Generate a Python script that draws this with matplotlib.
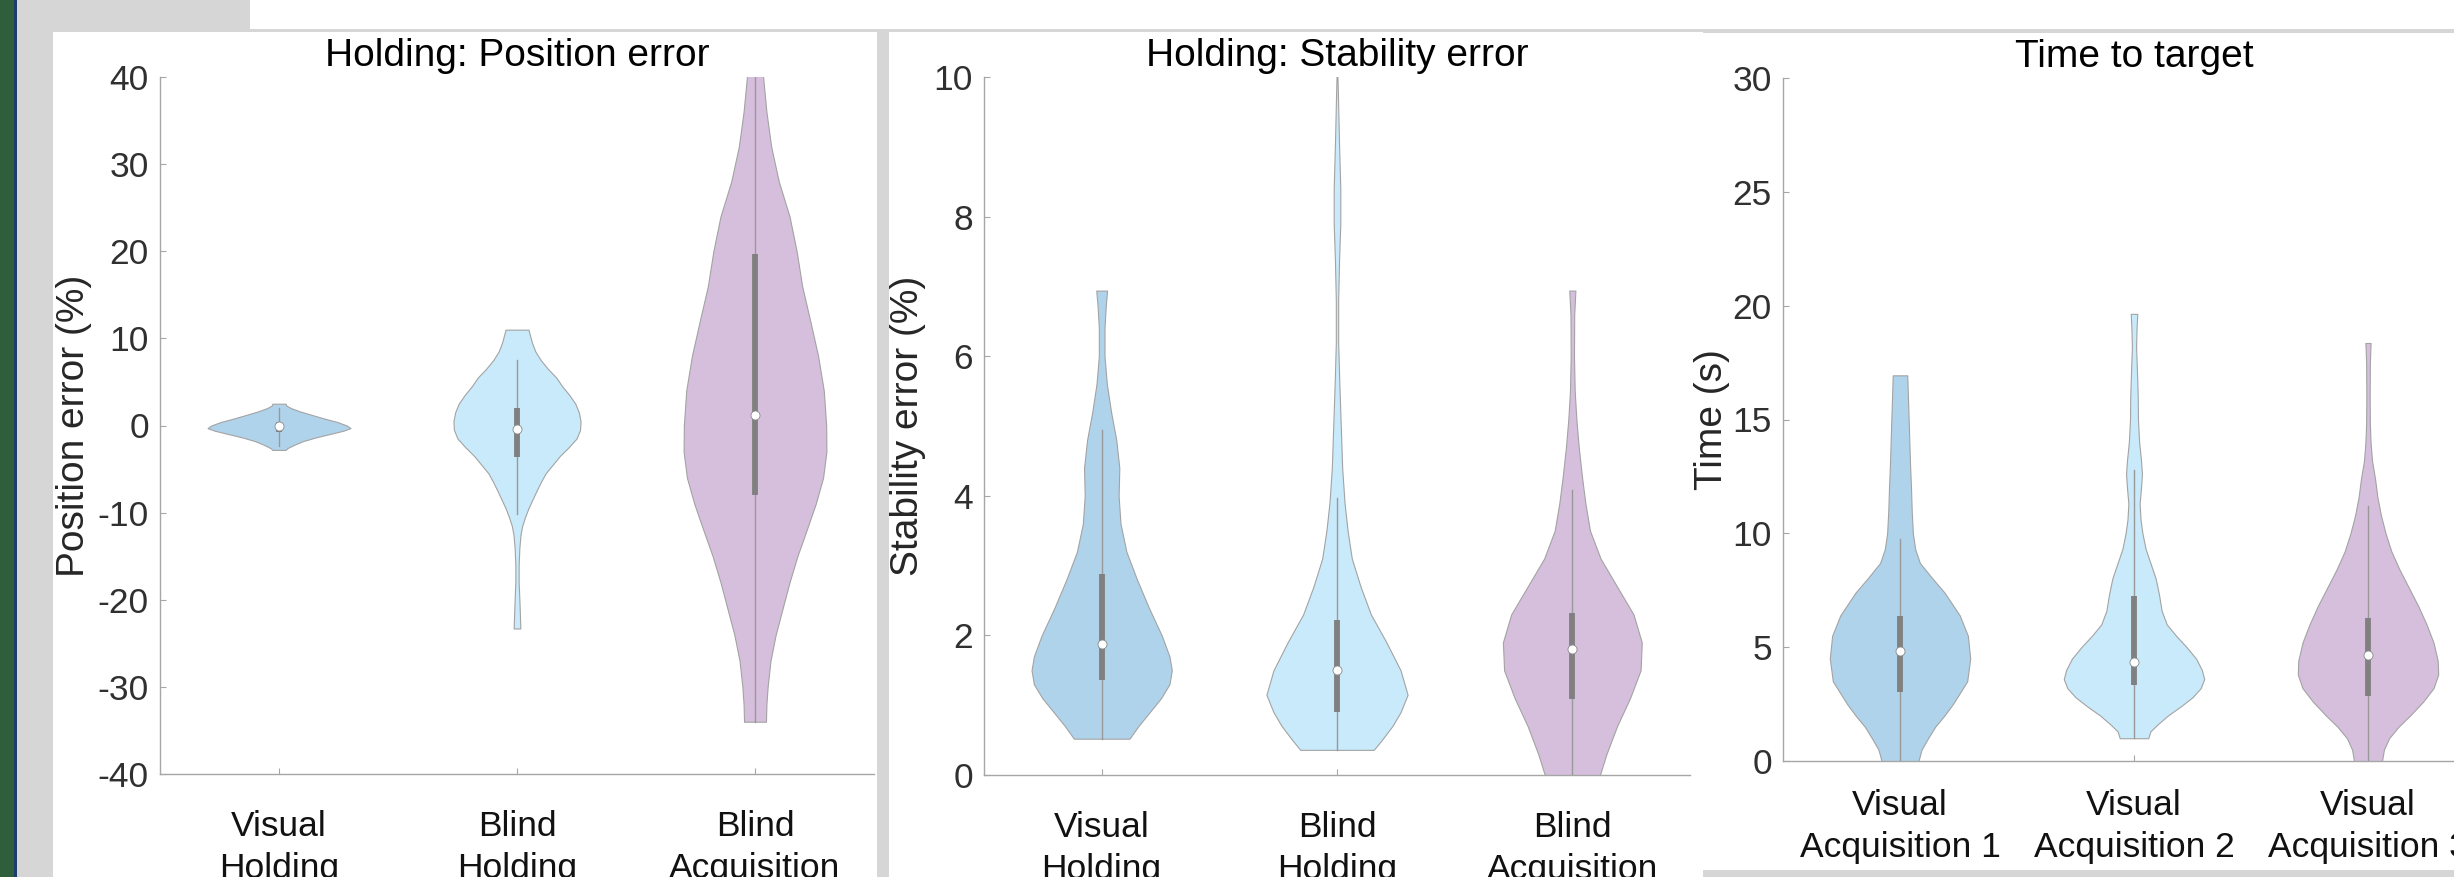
import matplotlib
matplotlib.use('Agg')
import matplotlib.pyplot as plt
from matplotlib.patches import Rectangle
import numpy as np

plt.rcParams['font.family'] = ['Liberation Sans', 'DejaVu Sans']
plt.rcParams['axes.unicode_minus'] = False

# ---------------- data ----------------
labels_hold = ['Visual\nHolding', 'Blind\nHolding', 'Blind\nAcquisition']
labels_time = ['Visual\nAcquisition 1', 'Visual\nAcquisition 2', 'Visual\nAcquisition 3']
colors = ['#b0d3ec', '#c9eafa', '#d6bfdd']

# Panel 1: Position error (%) -- violin outlines (value, half-width)
pos_vh_y = [2.5, 2.3, 2.0, 1.6, 1.2, 0.8, 0.4, 0.0, -0.3, -0.6, -1.0, -1.4, -1.8, -2.2, -2.6, -2.8]
pos_vh_w = [0.028, 0.03, 0.05, 0.09, 0.14, 0.19, 0.245, 0.285, 0.30, 0.27, 0.21, 0.15, 0.10, 0.065, 0.035, 0.028]
pos_bh_y = [11.0, 10.5, 9.5, 8.5, 7.5, 6.5, 5.5, 4.5, 3.5, 2.5, 1.5, 0.5, -0.5, -1.5, -2.5, -3.5, -4.5,
            -5.5, -6.5, -7.5, -8.5, -9.5, -10.5, -11.5, -12.5, -14.0, -16.0, -18.0, -20.0, -21.5, -23.3]
pos_bh_w = [0.048, 0.053, 0.063, 0.077, 0.10, 0.13, 0.165, 0.19, 0.22, 0.245, 0.26, 0.267, 0.265, 0.25, 0.217,
            0.18, 0.15, 0.12, 0.10, 0.082, 0.065, 0.048, 0.034, 0.022, 0.015, 0.01, 0.007, 0.007, 0.01, 0.012, 0.014]
pos_ba_y = [42, 40, 36, 32, 28, 24, 20, 16, 12, 8, 4, 0, -3, -6, -9, -12, -15, -18, -21, -24, -27, -30, -32, -34]
pos_ba_w = [0.03, 0.034, 0.048, 0.068, 0.10, 0.145, 0.175, 0.198, 0.232, 0.265, 0.289, 0.299, 0.30, 0.286,
            0.255, 0.217, 0.178, 0.145, 0.116, 0.087, 0.065, 0.053, 0.048, 0.046]
# box stats: q1, median, q3, lower whisker, upper whisker
pos_box = [(-0.7, -0.1, 0.4, -2.3, 2.0),
           (-3.6, -0.4, 2.0, -10.2, 7.5),
           (-8.0, 1.25, 19.7, -34.0, 42.0)]

# Panel 2: Stability error (%)
stab_vh_y = [6.94, 6.7, 6.4, 6.0, 5.6, 5.2, 4.8, 4.4, 4.0, 3.6, 3.2, 2.8, 2.4, 2.0, 1.7, 1.5, 1.3, 1.1, 0.9, 0.7, 0.52]
stab_vh_w = [0.023, 0.017, 0.012, 0.012, 0.022, 0.04, 0.062, 0.075, 0.072, 0.08, 0.105, 0.15, 0.2, 0.255,
             0.288, 0.298, 0.288, 0.252, 0.204, 0.156, 0.118]
stab_bh_y = [10.0, 9.6, 9.0, 8.4, 7.9, 7.4, 6.8, 6.2, 5.6, 5.0, 4.4, 3.9, 3.5, 3.1, 2.7, 2.3, 1.9, 1.5, 1.15,
             0.9, 0.7, 0.5, 0.36]
stab_bh_w = [0.002, 0.005, 0.009, 0.014, 0.014, 0.009, 0.005, 0.005, 0.01, 0.016, 0.022, 0.032, 0.045, 0.063,
             0.1, 0.144, 0.21, 0.27, 0.30, 0.27, 0.235, 0.19, 0.156]
stab_ba_y = [6.94, 6.6, 6.0, 5.5, 5.1, 4.7, 4.3, 3.9, 3.5, 3.1, 2.7, 2.3, 1.9, 1.5, 1.1, 0.7, 0.3, 0.0, -0.3]
stab_ba_w = [0.013, 0.008, 0.007, 0.01, 0.017, 0.027, 0.04, 0.055, 0.075, 0.12, 0.19, 0.26, 0.295, 0.29,
             0.245, 0.19, 0.145, 0.117, 0.09]
stab_box = [(1.36, 1.88, 2.88, 0.52, 4.94),
            (0.9, 1.5, 2.22, 0.36, 3.97),
            (1.09, 1.81, 2.32, -0.3, 4.08)]

# Panel 3: Time to target (s)
time_v1_y = [16.94, 15.0, 13.0, 12.0, 11.0, 10.0, 9.3, 8.7, 8.0, 7.4, 6.4, 5.5, 4.5, 3.5, 2.5, 2.0, 1.5, 1.0,
             0.5, 0.0, -0.5]
time_v1_w = [0.031, 0.037, 0.043, 0.047, 0.05, 0.055, 0.065, 0.085, 0.14, 0.19, 0.255, 0.29, 0.30, 0.287,
             0.226, 0.19, 0.15, 0.12, 0.092, 0.079, 0.07]
time_v2_y = [19.64, 19.0, 18.2, 17.0, 16.0, 15.0, 14.0, 13.2, 12.6, 12.0, 11.3, 10.6, 10.0, 9.3, 8.7, 8.0,
             7.3, 6.6, 6.0, 5.5, 5.0, 4.5, 4.0, 3.6, 3.2, 2.8, 2.4, 2.0, 1.6, 1.3, 1.0]
time_v2_w = [0.014, 0.011, 0.009, 0.013, 0.016, 0.017, 0.022, 0.03, 0.034, 0.03, 0.024, 0.028, 0.036, 0.05,
             0.07, 0.093, 0.107, 0.118, 0.14, 0.18, 0.225, 0.265, 0.29, 0.30, 0.285, 0.25, 0.2, 0.145, 0.1,
             0.07, 0.061]
time_v3_y = [18.36, 17.5, 16.0, 14.8, 14.0, 13.2, 12.4, 11.6, 10.8, 10.0, 9.2, 8.4, 7.6, 6.8, 6.0, 5.2, 4.4,
             3.8, 3.2, 2.6, 2.0, 1.5, 1.0, 0.5, 0.0, -0.5]
time_v3_w = [0.011, 0.008, 0.007, 0.008, 0.011, 0.017, 0.03, 0.04, 0.055, 0.075, 0.1, 0.135, 0.175, 0.215,
             0.25, 0.28, 0.298, 0.30, 0.28, 0.235, 0.18, 0.13, 0.09, 0.068, 0.06, 0.055]
time_box = [(3.04, 4.83, 6.38, -0.5, 9.75),
            (3.36, 4.37, 7.24, 1.0, 12.8),
            (2.87, 4.64, 6.3, -0.5, 11.2)]

# ---------------- figure / screenshot frame ----------------
W, H = 2454, 877
fig = plt.figure(figsize=(W / 100, H / 100), dpi=100)
GREY = '#d6d6d6'
fig.patch.set_facecolor(GREY)


def rect(x0, y0, x1, y1, color, z):
    fig.add_artist(Rectangle((x0 / W, 1 - y1 / H), (x1 - x0) / W, (y1 - y0) / H,
                             transform=fig.transFigure, facecolor=color,
                             edgecolor='none', zorder=z))


rect(0, 0, 14, 877, '#2e5e3c', -10)
rect(14, 0, 17, 877, '#1c3d6b', -10)
rect(250, 0, 2454, 29, 'white', -10)
rect(53, 32, 877, 877, 'white', -10)
rect(889, 32, 1703, 877, 'white', -10)
rect(1703, 33, 2454, 870, 'white', -10)
rect(1703, 870, 2454, 877, GREY, 10)


def make_ax(l, r, t, b):
    ax = fig.add_axes([l / W, 1 - b / H, (r - l) / W, (b - t) / H])
    ax.set_facecolor('none')
    for s in ['top', 'right']:
        ax.spines[s].set_visible(False)
    for s in ['left', 'bottom']:
        ax.spines[s].set_color('#a6a6a6')
        ax.spines[s].set_linewidth(1.0)
    return ax


def violin(ax, pos, ys, ws, color, box):
    ys = np.asarray(ys, dtype=float)
    ws = np.asarray(ws, dtype=float)
    ax.fill_betweenx(ys, pos - ws, pos + ws, facecolor=color, edgecolor='#a3a3a3',
                     linewidth=0.8, zorder=2)
    q1, med, q3, wl, wh = box
    ax.plot([pos, pos], [wl, wh], color='#999999', lw=1.0, zorder=3)
    ax.plot([pos, pos], [q1, q3], color='#808080', lw=4.2, solid_capstyle='butt', zorder=4)
    ax.plot([pos], [med], 'o', ms=6.5, mfc='white', mec='#8a8a8a', mew=0.6, zorder=5)


def style(ax, ylim, yticks, xlabels, xpad):
    ax.set_xlim(0.5, 3.5)
    ax.set_ylim(*ylim)
    ax.set_yticks(yticks)
    ax.set_yticklabels([str(v) for v in yticks])
    ax.set_xticks([1, 2, 3])
    ax.set_xticklabels(xlabels, linespacing=1.35)
    ax.tick_params(axis='both', direction='in', length=4.3, width=0.8, color='#a6a6a6')
    ax.tick_params(axis='y', labelsize=25.5, labelcolor='#303030', pad=8)
    ax.tick_params(axis='x', labelsize=25.5, labelcolor='#111111', pad=xpad)


panels = [
    dict(box=(160, 874, 77, 774), ylim=(-40, 40), yticks=list(range(-40, 41, 10)),
         xl=labels_hold, xpad=26, title='Holding: Position error', tb=66,
         ylabel='Position error (%)', ylx=74,
         vi=[(pos_vh_y, pos_vh_w), (pos_bh_y, pos_bh_w), (pos_ba_y, pos_ba_w)], bx=pos_box),
    dict(box=(984, 1690, 77, 775), ylim=(0, 10), yticks=list(range(0, 11, 2)),
         xl=labels_hold, xpad=26, title='Holding: Stability error', tb=66,
         ylabel='Stability error (%)', ylx=908,
         vi=[(stab_vh_y, stab_vh_w), (stab_bh_y, stab_bh_w), (stab_ba_y, stab_ba_w)], bx=stab_box),
    dict(box=(1783, 2485, 78, 761), ylim=(0, 30), yticks=list(range(0, 31, 5)),
         xl=labels_time, xpad=20, title='Time to target', tb=67,
         ylabel='Time (s)', ylx=1712,
         vi=[(time_v1_y, time_v1_w), (time_v2_y, time_v2_w), (time_v3_y, time_v3_w)], bx=time_box),
]

for p in panels:
    l, r, t, b = p['box']
    ax = make_ax(l, r, t, b)
    for i, ((ys, ws), bx) in enumerate(zip(p['vi'], p['bx'])):
        violin(ax, i + 1, ys, ws, colors[i], bx)
    style(ax, p['ylim'], p['yticks'], p['xl'], p['xpad'])
    fig.text(((l + r) / 2) / W, 1 - p['tb'] / H, p['title'], fontsize=28, color='black',
             ha='center', va='baseline')
    fig.text(p['ylx'] / W, 1 - ((t + b) / 2) / H, p['ylabel'], fontsize=28, color='#262626',
             rotation=90, ha='center', va='center')

fig.savefig('out.png', dpi=100, facecolor=fig.get_facecolor())
